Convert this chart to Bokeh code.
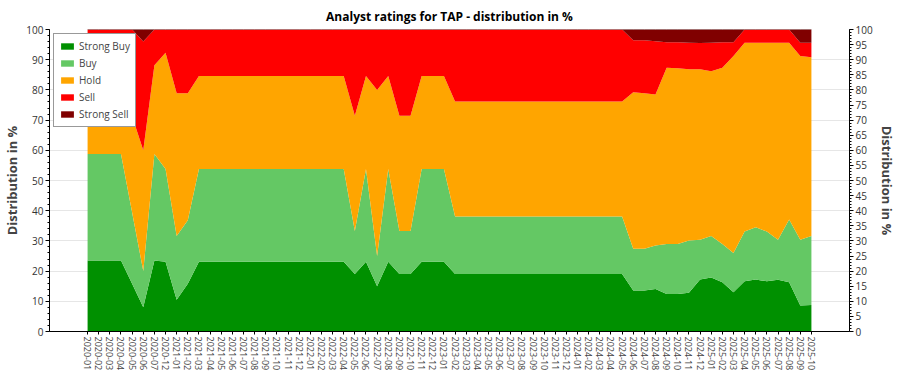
import math
from bokeh.plotting import figure
from bokeh.models import (ColumnDataSource, FactorRange, Range1d, LinearAxis,
                          SingleIntervalTicker)
from bokeh.embed import file_html
from bokeh.resources import INLINE

months = ["2020-01", "2020-02", "2020-03", "2020-04", "2020-05", "2020-06", "2020-07", "2020-12",
          "2021-01", "2021-02", "2021-03", "2021-04", "2021-05", "2021-06", "2021-07", "2021-08",
          "2021-09", "2021-10", "2021-11", "2021-12",
          "2022-01", "2022-02", "2022-03", "2022-04", "2022-05", "2022-06", "2022-07", "2022-08",
          "2022-09", "2022-10", "2022-11", "2022-12",
          "2023-01", "2023-02", "2023-03", "2023-04", "2023-05", "2023-06", "2023-07", "2023-08",
          "2023-09", "2023-10", "2023-11", "2023-12",
          "2024-01", "2024-02", "2024-03", "2024-04", "2024-05", "2024-06", "2024-07", "2024-08",
          "2024-09", "2024-10", "2024-11", "2024-12",
          "2025-01", "2025-02", "2025-03", "2025-04", "2025-05", "2025-06", "2025-07", "2025-08",
          "2025-09", "2025-10"]

strong_buy = [23.5, 23.5, 23.5, 23.5, 15.8, 8.0, 23.5, 23.1,
              10.5, 15.8, 23.1, 23.1, 23.1, 23.1, 23.1, 23.1, 23.1, 23.1, 23.1, 23.1,
              23.1, 23.1, 23.1, 23.1, 19.0, 23.1, 15.0, 23.1, 19.0, 19.0, 23.1, 23.1,
              23.1, 19.0, 19.0, 19.0, 19.0, 19.0, 19.0, 19.0, 19.0, 19.0, 19.0, 19.0,
              19.0, 19.0, 19.0, 19.0, 19.0, 13.6, 13.6, 14.1, 12.4, 12.4, 12.8, 17.2,
              17.9, 16.3, 13.0, 16.6, 17.2, 16.6, 17.1, 16.3, 8.6, 8.8]
buy = [35.3, 35.3, 35.3, 35.3, 23.6, 12.0, 35.3, 30.7,
       21.1, 21.0, 30.7, 30.7, 30.7, 30.7, 30.7, 30.7, 30.7, 30.7, 30.7, 30.7,
       30.7, 30.7, 30.7, 30.7, 14.3, 30.7, 10.0, 30.7, 14.3, 14.3, 30.7, 30.7,
       30.7, 19.1, 19.1, 19.1, 19.1, 19.1, 19.1, 19.1, 19.1, 19.1, 19.1, 19.1,
       19.1, 19.1, 19.1, 19.1, 19.1, 13.8, 13.8, 14.4, 16.6, 16.6, 17.3, 13.2,
       13.7, 12.7, 13.0, 16.5, 17.3, 16.5, 13.3, 20.8, 21.8, 22.8]
hold = [23.6, 23.6, 23.6, 23.6, 31.9, 40.0, 29.4, 38.5,
        47.3, 42.1, 30.8, 30.8, 30.8, 30.8, 30.8, 30.8, 30.8, 30.8, 30.8, 30.8,
        30.8, 30.8, 30.8, 30.8, 38.1, 30.8, 55.0, 30.8, 38.1, 38.1, 30.8, 30.8,
        30.8, 38.1, 38.1, 38.1, 38.1, 38.1, 38.1, 38.1, 38.1, 38.1, 38.1, 38.1,
        38.1, 38.1, 38.1, 38.1, 38.1, 51.8, 51.5, 50.0, 58.3, 58.2, 56.7, 56.4,
        54.6, 58.3, 65.2, 62.5, 61.1, 62.5, 65.2, 58.5, 60.8, 59.2]
sell = [17.6, 17.6, 17.6, 17.6, 28.7, 36.0, 11.8, 7.7,
        21.1, 21.1, 15.4, 15.4, 15.4, 15.4, 15.4, 15.4, 15.4, 15.4, 15.4, 15.4,
        15.4, 15.4, 15.4, 15.4, 28.6, 15.4, 20.0, 15.4, 28.6, 28.6, 15.4, 15.4,
        15.4, 23.8, 23.8, 23.8, 23.8, 23.8, 23.8, 23.8, 23.8, 23.8, 23.8, 23.8,
        23.8, 23.8, 23.8, 23.8, 23.8, 17.2, 17.5, 17.6, 8.5, 8.6, 8.8, 8.7,
        9.4, 8.5, 4.6, 4.4, 4.4, 4.4, 4.4, 4.4, 4.4, 4.8]
strong_sell = [0, 0, 0, 0, 0, 4.0, 0, 0,
               0, 0, 0, 0, 0, 0, 0, 0, 0, 0, 0, 0,
               0, 0, 0, 0, 0, 0, 0, 0, 0, 0, 0, 0,
               0, 0, 0, 0, 0, 0, 0, 0, 0, 0, 0, 0,
               0, 0, 0, 0, 0, 3.6, 3.6, 3.9, 4.2, 4.2, 4.4, 4.5,
               4.4, 4.2, 4.2, 0, 0, 0, 0, 0, 4.4, 4.4]

series_names = ["Strong Buy", "Buy", "Hold", "Sell", "Strong Sell"]
series_keys = ["sb", "b", "h", "s", "ss"]
colors = ["#009000", "#64C864", "#FFA500", "#FF0000", "#800000"]

total = [a + b + c + d + e for a, b, c, d, e in zip(strong_buy, buy, hold, sell, strong_sell)]
source = ColumnDataSource(dict(month=months, sb=strong_buy, b=buy, h=hold, s=sell,
                               ss=strong_sell, total=total))

FONT = "Open Sans"

p = figure(x_range=FactorRange(*months, range_padding=2.92, range_padding_units="absolute"),
           y_range=Range1d(0, 100),
           frame_width=800, frame_height=302,
           output_backend="svg", toolbar_location=None,
           min_border_left=0, min_border_right=0, min_border_top=3, min_border_bottom=0,
           title="Analyst ratings for TAP - distribution in %")

p.title.align = "center"
p.title.text_font = FONT
p.title.text_font_size = "12px"
p.title.text_font_style = "bold"
p.title.text_color = "#000000"

p.varea_stack(stackers=series_keys, x="month", color=colors,
              legend_label=series_names, source=source)
p.line(x="month", y="total", source=source, line_color="#6b2a2a", line_width=1)

p.outline_line_color = None
p.xgrid.grid_line_color = None
p.ygrid.grid_line_color = "#e6e6e6"

# left axis
yl = p.yaxis[0]
yl.ticker = SingleIntervalTicker(interval=10, num_minor_ticks=5)
yl.axis_label = "Distribution in %"
yl.axis_label_text_font = FONT
yl.axis_label_text_font_size = "13px"
yl.axis_label_text_font_style = "bold"
yl.axis_label_standoff = 2
yl.major_label_text_font = FONT
yl.major_label_text_font_size = "10px"
yl.major_label_text_color = "#333333"
yl.major_label_standoff = 2
yl.major_tick_out = 4
yl.major_tick_in = 0
yl.minor_tick_out = 2
yl.minor_tick_in = 0
yl.axis_line_color = "#000000"

# right axis
p.extra_y_ranges = {"right": Range1d(0, 100)}
yr = LinearAxis(y_range_name="right",
                ticker=SingleIntervalTicker(interval=5, num_minor_ticks=5))
yr.axis_label = "Distribution in %"
yr.axis_label_text_font = FONT
yr.axis_label_text_font_size = "13px"
yr.axis_label_text_font_style = "bold"
yr.axis_label_standoff = 2
yr.major_label_text_font = FONT
yr.major_label_text_font_size = "10px"
yr.major_label_text_color = "#333333"
yr.major_label_standoff = 2
yr.major_tick_out = 4
yr.major_tick_in = 0
yr.minor_tick_out = 2
yr.minor_tick_in = 0
yr.axis_line_color = "#000000"
p.add_layout(yr, "right")

# x axis
xa = p.xaxis[0]
xa.major_label_orientation = -math.pi / 2
xa.major_label_text_font = FONT
xa.major_label_text_font_size = "9px"
xa.major_label_text_color = "#444444"
xa.major_label_standoff = 2
xa.major_tick_out = 3
xa.major_tick_in = 0
xa.axis_line_color = "#000000"

# legend
lg = p.legend[0]
lg.location = "top_left"
lg.margin = 4
lg.padding = 5
lg.spacing = 3
lg.label_text_font = FONT
lg.label_text_font_size = "10px"
lg.label_height = 12
lg.glyph_height = 8
lg.glyph_width = 16
lg.label_standoff = 4
lg.border_line_color = "#333333"
lg.border_line_width = 1
lg.background_fill_alpha = 1.0

open("out.html", "w").write(file_html(p, INLINE))
